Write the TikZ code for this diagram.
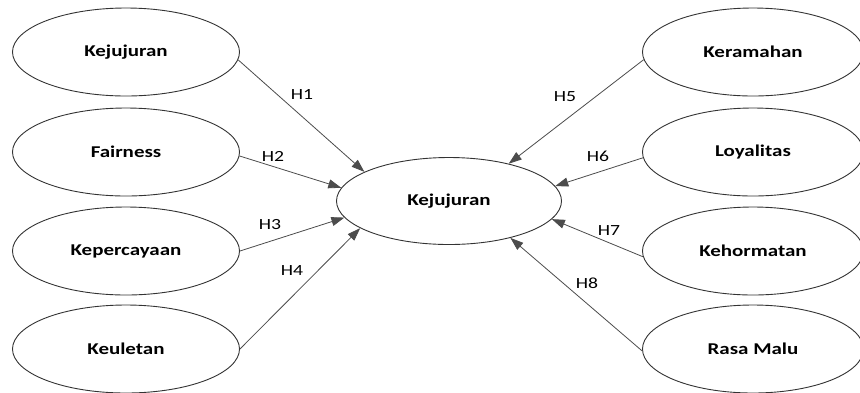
\documentclass[tikz,border=0pt]{standalone}
\usepackage{fontspec}
\setmainfont[FakeStretch=1.27]{Carlito}
\usetikzlibrary{shapes.geometric,arrows.meta}
\begin{document}
\begin{tikzpicture}[x=1pt,y=-1pt,
  var/.style={draw=black!80,line width=0.9pt,ellipse,inner sep=0pt,minimum width=227pt,minimum height=88pt,font=\fontsize{16.5}{19}\selectfont\bfseries},
  rvar/.style={var,minimum width=221pt},
  link/.style={draw=black!70,line width=0.8pt,-{Triangle[length=13pt,width=9pt]}},
  hlab/.style={font=\fontsize{15.5}{18}\selectfont,inner sep=0pt}]
\useasboundingbox (0,0) rectangle (860,392);
\fill[white] (0,0) rectangle (860,392);
\node[var] (l1) at (126,52) {Kejujuran};
\node[var] (l2) at (126,152) {Fairness};
\node[var] (l3) at (126,251) {Kepercayaan};
\node[var] (l4) at (126,349) {Keuletan};
\node[rvar] (r1) at (753,52) {Keramahan};
\node[rvar] (r2) at (753,152) {Loyalitas};
\node[rvar] (r3) at (753,251) {Kehormatan};
\node[rvar] (r4) at (753,349) {Rasa Malu};
\node[var,minimum width=225pt,minimum height=87pt] (c) at (449,201) {Kejujuran};
\draw[link] (l1.-4) -- (c.161);
\draw[link] (l2.-2) -- (c.173);
\draw[link] (l3.east) -- (c.189);
\draw[link] (l4.east) -- (c.197);
\draw[link] (r1.184) -- (c.32);
\draw[link] (r2.183) -- (c.8);
\draw[link] (r3.183) -- (c.-10);
\draw[link] (r4.181) -- (c.-31);
\node[hlab] (h1) at (302,95) {H1};
\node[hlab] (h2) at (273,156) {H2};
\node[hlab] (h3) at (270,225) {H3};
\node[hlab] (h4) at (292,271) {H4};
\node[hlab] (h5) at (565,97) {H5};
\node[hlab] (h6) at (598,156) {H6};
\node[hlab] (h7) at (609,231) {H7};
\node[hlab] (h8) at (587,283) {H8};
\end{tikzpicture}
\end{document}
